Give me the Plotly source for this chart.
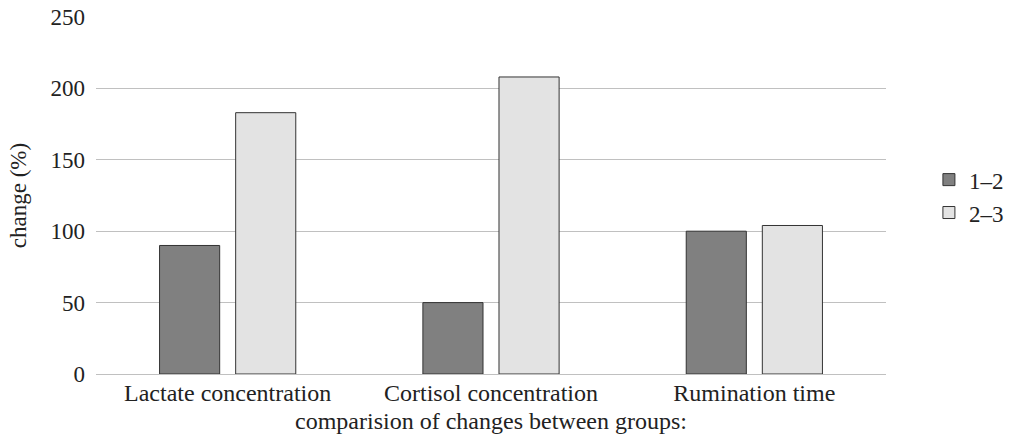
import plotly.graph_objects as go

categories = ["Lactate concentration", "Cortisol concentration", "Rumination time"]
series_names = ["1–2", "2–3"]
values_12 = [90, 50, 100]
values_23 = [183, 208, 104]
y_ticks = [0, 50, 100, 150, 200, 250]

font = "Liberation Serif"

fig = go.Figure()
fig.add_trace(go.Bar(x=categories, y=values_12, name=series_names[0],
                     marker=dict(color="#808080", line=dict(color="#333333", width=1))))
fig.add_trace(go.Bar(x=categories, y=values_23, name=series_names[1],
                     marker=dict(color="#e3e3e3", line=dict(color="#333333", width=1))))

fig.update_layout(
    width=1013, height=434,
    margin=dict(l=96, r=127, t=17, b=60),
    paper_bgcolor="white", plot_bgcolor="white",
    barmode="group", bargap=0.422, bargroupgap=0.21,
    font=dict(family=font, size=23, color="#222222"),
    legend=dict(xref="container", yref="container", x=0.917, y=0.548,
                xanchor="left", yanchor="middle",
                font=dict(family=font, size=23), tracegroupgap=0),
    xaxis=dict(title=dict(text="comparision of changes between groups:", standoff=9,
                          font=dict(family=font, size=24)),
               tickfont=dict(family=font, size=24),
               showgrid=False, showline=False, ticks="", automargin=False,
               ticklabelstandoff=2),
    yaxis=dict(title=dict(text="change (%)", font=dict(family=font, size=23), standoff=17),
               tickfont=dict(family=font, size=23),
               range=[0, 250], tickvals=y_ticks, showgrid=True, gridcolor="#c0c0c0",
               gridwidth=1, zeroline=True, zerolinecolor="#c0c0c0", zerolinewidth=1,
               ticks="", ticklabelstandoff=10, showline=False, automargin=False,
               ticklabeloverflow="allow"),
)
fig.write_html("out.html", config={"displayModeBar": False},
               post_script="document.body.style.margin='0';")
